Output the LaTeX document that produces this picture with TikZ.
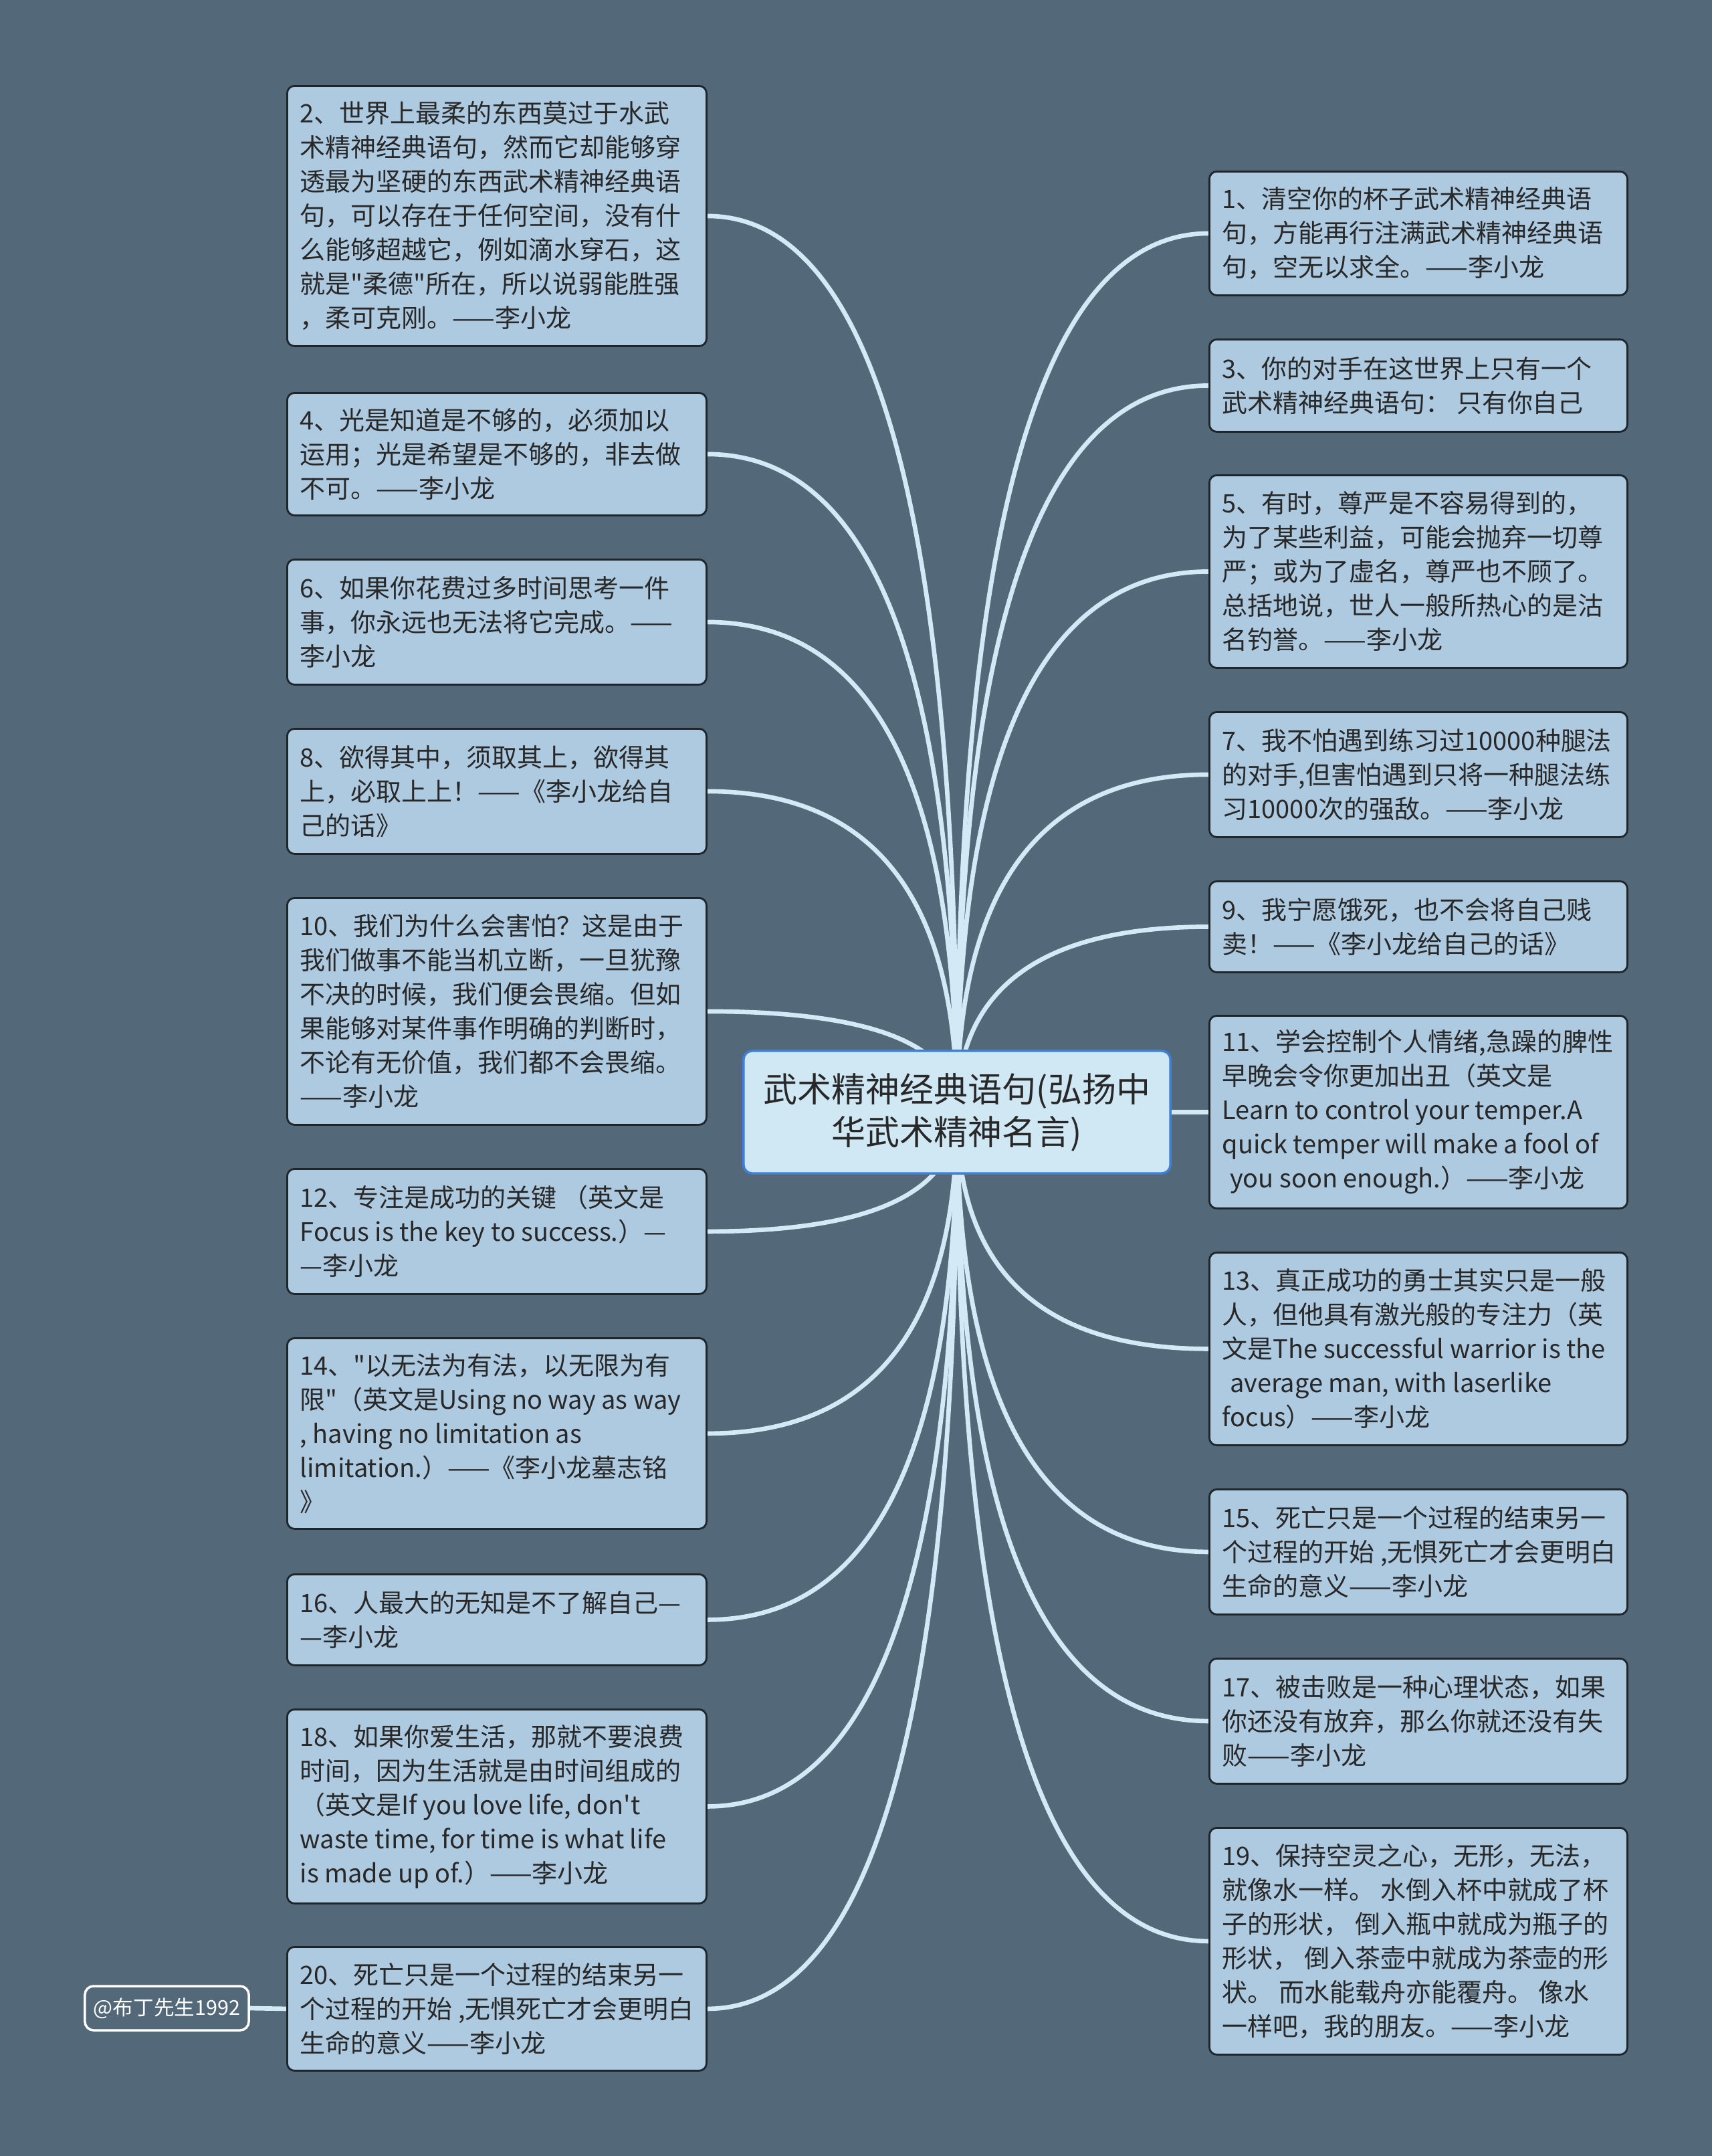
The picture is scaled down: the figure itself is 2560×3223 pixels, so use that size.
\documentclass[tikz,border=0pt]{standalone}
\usepackage{fontspec}
\newfontfamily\cjk{Noto Sans CJK SC}
\usetikzlibrary{calc}
\definecolor{bgc}{HTML}{536878}
\definecolor{boxfill}{HTML}{ADCAE0}
\definecolor{boxline}{HTML}{1F262B}
\definecolor{cfill}{HTML}{D0E7F4}
\definecolor{cline}{HTML}{3D80D4}
\definecolor{linkc}{HTML}{D3E9F5}
\definecolor{txtc}{HTML}{282828}
\pgfdeclarelayer{bg}\pgfdeclarelayer{edges}\pgfsetlayers{bg,edges,main}
\tikzset{
 qbox/.style={draw=boxline, fill=boxfill, line width=0.8pt, rounded corners=0.11cm, anchor=north west, inner sep=0pt},
 qtxt/.style={anchor=west, align=left, inner sep=0pt, text=txtc, font={\cjk\fontsize{10.8}{14.5}\selectfont}},
 conn/.style={draw=linkc, line width=1.9pt},
 cnode/.style={draw=cline, fill=cfill, line width=1pt, rounded corners=0.13cm, inner sep=0pt, minimum width=6.38cm, minimum height=1.83cm, align=center, text=txtc, font={\cjk\fontsize{14.5}{18.2}\selectfont}},
 anode/.style={draw=white, fill=bgc, line width=1pt, rounded corners=0.13cm, inner sep=0pt, minimum width=2.45cm, minimum height=0.66cm, text=white, font={\cjk\fontsize{8.7}{10}\selectfont}}
}
\newcommand\qbox[6]{%
 \node[qbox, minimum width={#4*0.01cm}, minimum height={#5*0.01cm}] (#1) at (#2,#3) {};
 \node[qtxt] (t#1) at ([xshift=0.2cm]#1.west) {#6};}
\newcommand\linkto[2]{%
 \coordinate (q#1) at (#1.#2 -| c.center);
 \draw[conn] (#1.#2) .. controls ($(#1.#2)!0.6667!(q#1)$) and ($(c.center)!0.6667!(q#1)$) .. (c.center);}
\begin{document}
\begin{tikzpicture}[x=0.01cm,y=-0.01cm]
\begin{pgfonlayer}{bg}
\fill[bgc] (0,0) rectangle (2560,3223);
\end{pgfonlayer}
\useasboundingbox (0,0) rectangle (2560,3223);
\node[cnode] (c) at (1431,1662.5) {武术精神经典语句(弘扬中\\华武术精神名言)};
% left column
\qbox{L2}{428}{127}{627}{389}{2、世界上最柔的东西莫过于水武\\术精神经典语句，然而它却能够穿\\透最为坚硬的东西武术精神经典语\\句，可以存在于任何空间，没有什\\么能够超越它，例如滴水穿石，这\\就是"柔德"所在，所以说弱能胜强\\，柔可克刚。——李小龙}
\qbox{L4}{428}{586}{627}{183}{4、光是知道是不够的，必须加以\\运用；光是希望是不够的，非去做\\不可。——李小龙}
\qbox{L6}{428}{835}{627}{187}{6、如果你花费过多时间思考一件\\事，你永远也无法将它完成。——\\李小龙}
\qbox{L8}{428}{1088}{627}{187}{8、欲得其中，须取其上，欲得其\\上，必取上上！——《李小龙给自\\己的话》}
\qbox{L10}{428}{1341}{627}{339}{10、我们为什么会害怕？这是由于\\我们做事不能当机立断，一旦犹豫\\不决的时候，我们便会畏缩。但如\\果能够对某件事作明确的判断时，\\不论有无价值，我们都不会畏缩。\\——李小龙}
\qbox{L12}{428}{1746}{627}{187}{12、专注是成功的关键 （英文是\\Focus is the key to success.）—\\—李小龙}
\qbox{L14}{428}{1999}{627}{285}{14、"以无法为有法，以无限为有\\限"（英文是Using no way as way\\, having no limitation as\\limitation.）——《李小龙墓志铭\\》}
\qbox{L16}{428}{2352}{627}{136}{16、人最大的无知是不了解自己—\\—李小龙}
\qbox{L18}{428}{2554}{627}{290}{18、如果你爱生活，那就不要浪费\\时间，因为生活就是由时间组成的\\（英文是If you love life, don't\\waste time, for time is what life\\is made up of.）——李小龙}
\qbox{L20}{428}{2909}{627}{185}{20、死亡只是一个过程的结束另一\\个过程的开始 ,无惧死亡才会更明白\\生命的意义——李小龙}
% right column
\qbox{R1}{1807}{255}{625}{185}{1、清空你的杯子武术精神经典语\\句，方能再行注满武术精神经典语\\句，空无以求全。——李小龙}
\qbox{R3}{1807}{506}{625}{138}{3、你的对手在这世界上只有一个\\武术精神经典语句： 只有你自己}
\qbox{R5}{1807}{709}{625}{288}{5、有时，尊严是不容易得到的，\\为了某些利益，可能会抛弃一切尊\\严；或为了虚名，尊严也不顾了。\\总括地说，世人一般所热心的是沽\\名钓誉。——李小龙}
\qbox{R7}{1807}{1063}{625}{187}{7、我不怕遇到练习过10000种腿法\\的对手,但害怕遇到只将一种腿法练\\习10000次的强敌。——李小龙}
\qbox{R9}{1807}{1316}{625}{136}{9、我宁愿饿死，也不会将自己贱\\卖！——《李小龙给自己的话》}
\qbox{R11}{1807}{1517}{625}{288}{11、学会控制个人情绪,急躁的脾性\\早晚会令你更加出丑（英文是\\Learn to control your temper.A\\quick temper will make a fool of\\\hspace*{0.3em}you soon enough.）——李小龙}
\qbox{R13}{1807}{1871}{625}{288}{13、真正成功的勇士其实只是一般\\人，但他具有激光般的专注力（英\\文是The successful warrior is the\\\hspace*{0.3em}average man, with laserlike\\focus）——李小龙}
\qbox{R15}{1807}{2225}{625}{187}{15、死亡只是一个过程的结束另一\\个过程的开始 ,无惧死亡才会更明白\\生命的意义——李小龙}
\qbox{R17}{1807}{2478}{625}{187}{17、被击败是一种心理状态，如果\\你还没有放弃，那么你就还没有失\\败——李小龙}
\qbox{R19}{1807}{2731}{625}{339}{19、保持空灵之心，无形，无法，\\就像水一样。 水倒入杯中就成了杯\\子的形状， 倒入瓶中就成为瓶子的\\形状， 倒入茶壶中就成为茶壶的形\\状。 而水能载舟亦能覆舟。 像水\\一样吧，我的朋友。——李小龙}
\node[anode] (au) at (249.5,3002) {@布丁先生1992};
\begin{pgfonlayer}{edges}
\linkto{L2}{east}\linkto{L4}{east}\linkto{L6}{east}\linkto{L8}{east}\linkto{L10}{east}
\linkto{L12}{east}\linkto{L14}{east}\linkto{L16}{east}\linkto{L18}{east}\linkto{L20}{east}
\linkto{R1}{west}\linkto{R3}{west}\linkto{R5}{west}\linkto{R7}{west}\linkto{R9}{west}
\linkto{R11}{west}\linkto{R13}{west}\linkto{R15}{west}\linkto{R17}{west}\linkto{R19}{west}
\draw[conn] (au.east) -- (L20.west);
\end{pgfonlayer}
\end{tikzpicture}
\end{document}
